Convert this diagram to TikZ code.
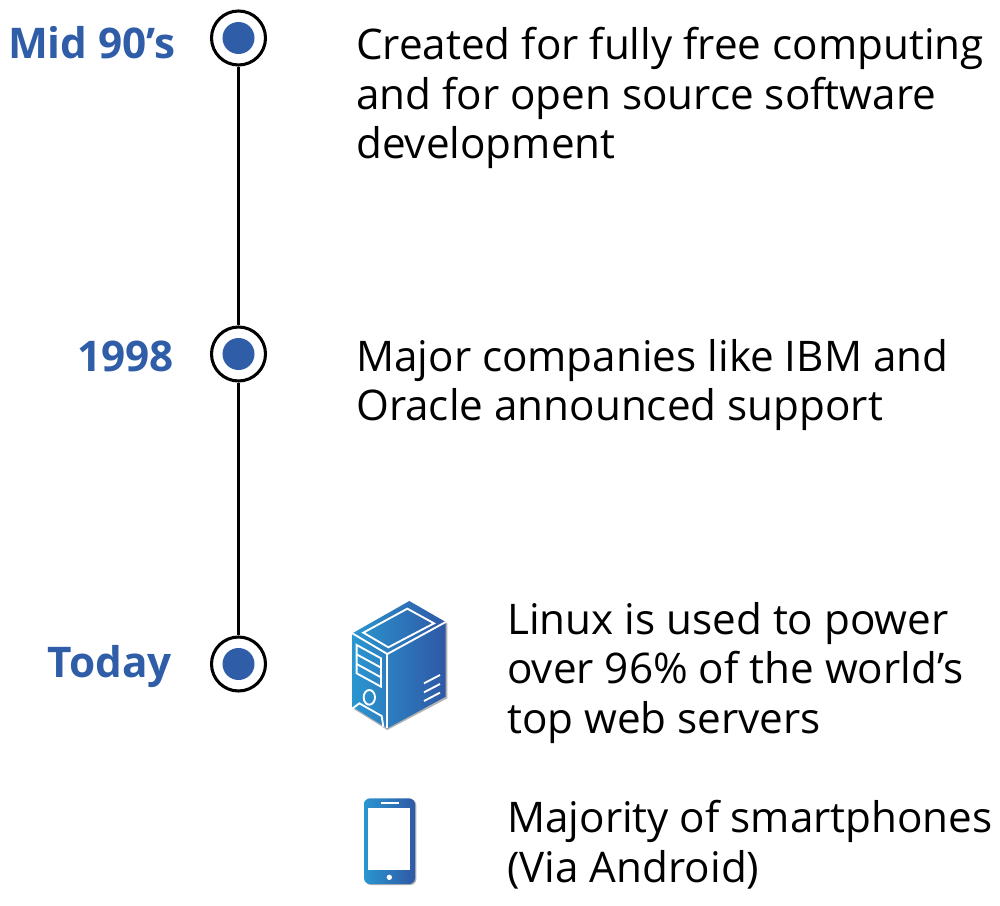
\documentclass[tikz,border=0pt]{standalone}
\usepackage{fontspec}
\setmainfont{Open Sans}
\definecolor{dotblue}{HTML}{2F5DA8}
\definecolor{iconlight}{HTML}{2A96D0}
\definecolor{iconmid}{HTML}{2874BA}
\definecolor{icondark}{HTML}{2F58A6}
\tikzset{
  ring/.style={circle, draw=black, line width=2.3pt, fill=white, minimum size=40.5pt, inner sep=0pt},
  dot/.style={circle, fill=dotblue, minimum size=24pt, inner sep=0pt},
  datelabel/.style={anchor=east, inner sep=0pt, text=dotblue, font=\fontsize{31.7}{38}\selectfont\bfseries},
  bodytext/.style={anchor=north west, inner sep=0pt, align=left, font=\fontsize{31.65}{37.1}\selectfont},
  iconline/.style={draw=white, line width=1.4pt},
  iconfill/.style={left color=iconlight, middle color=iconmid, right color=icondark},
}
\begin{document}
\begin{tikzpicture}[x=0.75pt, y=-0.75pt]
    \useasboundingbox (0,0) rectangle (1000,906);
    % Timeline
    \node[ring] (mid) at (238.5,38) {};
    \node[ring] (ninetyeight) at (238.5,354) {};
    \node[ring] (today) at (238.5,664) {};
    \draw[black, line width=2.3pt] (mid) -- (ninetyeight);
    \draw[black, line width=2.3pt] (ninetyeight) -- (today);
    \node[dot] (middot) at (mid) {};
    \node[dot] (ninetyeightdot) at (ninetyeight) {};
    \node[dot] (todaydot) at (today) {};
    % Dates
    \node[datelabel] (midlabel) at (176,43) {Mid 90’s};
    \node[datelabel] (ninetyeightlabel) at (174,356) {1998};
    \node[datelabel] (todaylabel) at (172,667) {Today};
    % Descriptions
    \node[bodytext] (midtext) at (356,27) {Created for fully free computing\\and for open source software\\development};
    \node[bodytext] (ninetyeighttext) at (356,339) {Major companies like IBM and\\Oracle announced support};
    \node[bodytext] (servertext) at (507,602) {Linux is used to power\\over 96\% of the world’s\\top web servers};
    \node[bodytext] (phonetext) at (507,800) {Majority of smartphones\\(Via Android)};
    % Server icon
    \begin{scope}[shift={(330,590)}, x=0.25pt, y=-0.25pt]
      \fill[black!30] (70,136) -- (238,38) -- (352,100) -- (352,325) -- (172,420) -- (70,356) -- cycle;
      \shade[iconfill] (67,130) -- (238,33) -- (347,96) -- (347,320) -- (172,415) -- (67,350) -- cycle;
      \draw[iconline] (67,130) -- (172,192) -- (347,96);
      \draw[iconline] (172,192) -- (172,415);
      \draw[iconline] (100,128) -- (232,56) -- (312,100) -- (175,172) -- cycle;
      % vent panel
      \draw[iconline] (80,165) -- (153,205) -- (153,290) -- (80,250) -- cycle;
      \draw[iconline] (80,193) -- (153,233);
      \draw[iconline] (80,222) -- (153,262);
      \draw[iconline] (118,322) ellipse (17 and 22);
      \draw[iconline] (68,355) -- (88,340) -- (155,378) -- (160,410);
      % right vents
      \draw[iconline] (282,280) -- (330,255);
      \draw[iconline] (282,307) -- (330,282);
      \draw[iconline] (282,333) -- (330,308);
    \end{scope}
    % Phone icon
    \begin{scope}[shift={(340,785)}, x=0.25pt, y=-0.25pt]
      \fill[black!30, rounded corners=4.5pt] (75,43) rectangle (229,300);
      \shade[iconfill, rounded corners=4.5pt] (72,40) rectangle (225,297);
      \fill[white] (85,70) rectangle (211,254);
      \draw[white, line width=1.3pt] (122,55) -- (176,55);
      \fill[white] (148,277) circle (2pt);
    \end{scope}
\end{tikzpicture}
\end{document}
